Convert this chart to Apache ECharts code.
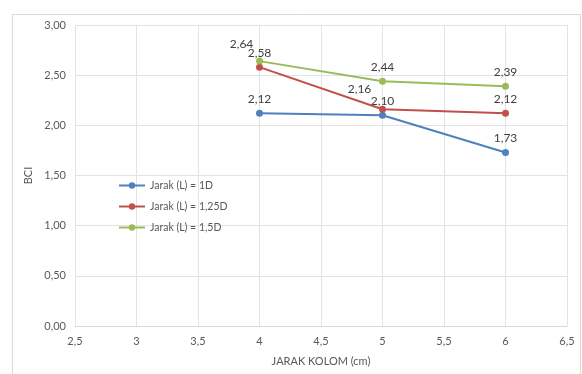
<!DOCTYPE html>
<html>
<head>
<meta charset="utf-8">
<style>
  html, body { margin: 0; padding: 0; background: #ffffff; }
  #chart { width: 582px; height: 374px; }
</style>
<script src="https://cdn.jsdelivr.net/npm/echarts@6/dist/echarts.min.js"></script>
</head>
<body>
<div id="chart"></div>
<script>
// Column spacing (cm) on the x axis
const jarakKolom = [4, 5, 6];

// BCI values for each pile spacing
const seriesNames = ['Jarak (L) = 1D', 'Jarak (L) = 1,25D', 'Jarak (L) = 1,5D'];
const bci1D = [2.12, 2.10, 1.73];
const bci125D = [2.58, 2.16, 2.12];
const bci15D = [2.64, 2.44, 2.39];

const seriesColors = ['#4F81BD', '#C0504D', '#9BBB59'];
const FONT = 'Lato, "Liberation Sans", sans-serif';

const fmt = v => v.toFixed(2).replace('.', ',');
const fmtX = v => String(v).replace('.', ',');

// Per-point label offsets so overlapping labels stay readable
const labelOffsets = [
  [[0, 0], [0, 0], [0, 0]],
  [[0, 0], [-23, -6], [0, 0]],
  [[-18, -2], [0, 0], [0, 0]]
];

function buildData(values, sIdx) {
  return values.map((v, i) => ({
    value: [jarakKolom[i], v],
    label: { offset: labelOffsets[sIdx][i] }
  }));
}

const allValues = [bci1D, bci125D, bci15D];

const chart = echarts.init(document.getElementById('chart'), null, { renderer: 'canvas' });

chart.setOption({
  animation: false,
  backgroundColor: '#ffffff',
  graphic: [{
    type: 'rect',
    shape: { x: 12.5, y: 14.5, width: 568, height: 400 },
    style: { fill: 'none', stroke: '#d9d9d9', lineWidth: 1 },
    silent: true,
    z: -1
  }],
  grid: { left: 75, right: 15, top: 25, bottom: 48 },
  legend: {
    orient: 'vertical',
    left: 113,
    top: 175,
    itemWidth: 26,
    itemHeight: 8,
    itemGap: 10,
    textStyle: { fontFamily: FONT, fontSize: 10.5, color: '#595959' },
    data: seriesNames
  },
  xAxis: {
    type: 'value',
    min: 2.5,
    max: 6.5,
    interval: 0.5,
    name: 'JARAK KOLOM (cm)',
    nameLocation: 'middle',
    nameGap: 30,
    nameTextStyle: { fontFamily: FONT, fontSize: 11, color: '#595959' },
    axisLine: { show: true, lineStyle: { color: '#d9d9d9' } },
    axisTick: { show: false },
    splitLine: { show: true, lineStyle: { color: '#e3e3e3' } },
    axisLabel: { formatter: fmtX, fontFamily: FONT, fontSize: 11, color: '#595959', margin: 10 }
  },
  yAxis: {
    type: 'value',
    min: 0,
    max: 3,
    interval: 0.5,
    name: 'BCI',
    nameLocation: 'middle',
    nameGap: 30,
    nameTextStyle: { fontFamily: FONT, fontSize: 11, color: '#595959' },
    axisLine: { show: false },
    axisTick: { show: false },
    splitLine: { show: true, lineStyle: { color: '#e3e3e3' } },
    axisLabel: { formatter: fmt, fontFamily: FONT, fontSize: 11, color: '#595959', margin: 9 }
  },
  series: allValues.map((vals, s) => ({
    name: seriesNames[s],
    type: 'line',
    data: buildData(vals, s),
    color: seriesColors[s],
    symbol: 'circle',
    symbolSize: 7,
    lineStyle: { width: 2 },
    label: {
      show: true,
      position: 'top',
      distance: 5,
      formatter: p => fmt(p.value[1]),
      fontFamily: FONT,
      fontSize: 12,
      color: '#404040'
    },
    z: 2 + s
  }))
});
</script>
</body>
</html>
